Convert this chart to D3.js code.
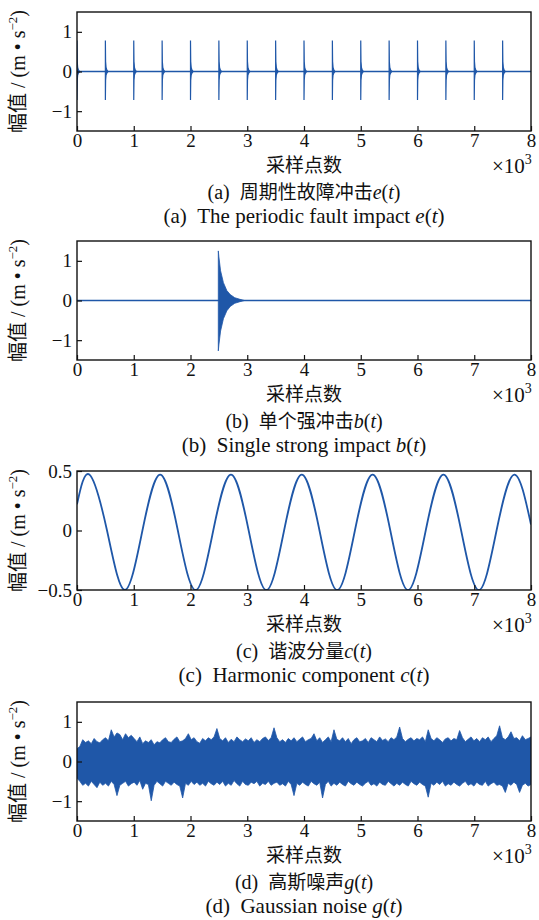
<!DOCTYPE html>
<html>
<head>
<meta charset="utf-8">
<script src="https://cdn.jsdelivr.net/npm/d3@7"></script>
<style>
  body { margin: 0; background: #fff; }
  svg text { fill: #111; }
</style>
</head>
<body>
<div id="chart"></div>
<script>
// ---- data ----
const xTicks = [0, 1, 2, 3, 4, 5, 6, 7, 8];           // 采样点数, ×10^3
const yTicksWide = [-1, 0, 1];
const yTicksHarm = [-0.5, 0, 0.5];

const panelLetters = ["a", "b", "c", "d"];
const captionsCn = ["周期性故障冲击", "单个强冲击", "谐波分量", "高斯噪声"];
const captionsEn = ["The periodic fault impact", "Single strong impact", "Harmonic component", "Gaussian noise"];
const signalNames = ["e", "b", "c", "g"];

// (a) periodic impacts: start of each impact (×10^3) and its decay envelope
const impulseTimes = [0, 0.5, 1, 1.5, 2, 2.5, 3, 3.5, 4, 4.5, 5, 5.5, 6, 6.5, 7, 7.5];
const impulseOffset = [0, 0.004, 0.012, 0.025, 0.045];
const impulseUpper = [0.78, 0.25, 0.1, 0.04, 0];
const impulseLower = [-0.72, -0.22, -0.09, -0.04, 0];

// (b) single strong impact envelope
const burstTime = [2.49, 2.5, 2.53, 2.58, 2.64, 2.7, 2.78, 2.87, 2.95];
const burstUpper = [1.25, 1.1, 0.75, 0.45, 0.25, 0.15, 0.07, 0.03, 0];
const burstLower = [-1.27, -1.12, -0.77, -0.46, -0.26, -0.15, -0.07, -0.03, 0];

// (c) harmonic component: start, peaks, zero crossings, troughs, end
const harmT = [0, 0.217, 0.529, 0.841, 1.153, 1.465, 1.777, 2.089, 2.401, 2.713, 3.025, 3.337,
  3.649, 3.961, 4.273, 4.585, 4.897, 5.209, 5.521, 5.833, 6.145, 6.457, 6.769, 7.081, 7.393, 7.705, 8];
const harmV = [0.22, 0.47, 0, -0.5, 0, 0.47, 0, -0.5, 0, 0.47, 0, -0.5,
  0, 0.47, 0, -0.5, 0, 0.47, 0, -0.5, 0, 0.47, 0, -0.5, 0, 0.47, 0.05];

// (d) gaussian noise: upper / lower extremes every 50 samples
const noiseUpper = [
  0.32,0.38,0.55,0.48,0.52,0.45,0.58,0.5,0.47,0.55,
  0.6,0.52,0.8,0.62,0.72,0.68,0.55,0.7,0.6,0.66,
  0.58,0.5,0.62,0.45,0.52,0.48,0.55,0.42,0.5,0.47,
  0.55,0.6,0.5,0.48,0.56,0.62,0.5,0.52,0.58,0.7,
  0.55,0.6,0.5,0.46,0.58,0.52,0.6,0.55,0.62,0.83,
  0.58,0.52,0.6,0.48,0.56,0.5,0.62,0.55,0.5,0.57,
  0.52,0.6,0.48,0.55,0.5,0.58,0.62,0.53,0.6,0.85,
  0.6,0.5,0.55,0.48,0.58,0.52,0.6,0.5,0.56,0.62,
  0.5,0.55,0.58,0.7,0.52,0.6,0.48,0.55,0.62,0.5,
  0.8,0.56,0.52,0.6,0.5,0.58,0.45,0.55,0.6,0.5,
  0.52,0.58,0.48,0.6,0.55,0.5,0.62,0.53,0.57,0.5,
  0.6,0.55,0.62,0.87,0.58,0.5,0.56,0.6,0.52,0.58,
  0.55,0.62,0.5,0.8,0.58,0.52,0.6,0.55,0.48,0.57,
  0.6,0.52,0.58,0.55,0.78,0.6,0.5,0.56,0.62,0.52,
  0.58,0.5,0.6,0.55,0.62,0.5,0.58,0.65,0.9,0.6,
  0.55,0.62,0.75,0.58,0.6,0.52,0.65,0.55,0.58,0.62];
const noiseLower = [
  -0.42,-0.5,-0.6,-0.55,-0.62,-0.5,-0.58,-0.66,-0.52,-0.6,
  -0.55,-0.62,-0.5,-0.58,-0.86,-0.6,-0.55,-0.5,-0.62,-0.56,
  -0.52,-0.6,-0.48,-0.7,-0.55,-0.58,-0.99,-0.6,-0.5,-0.56,
  -0.62,-0.5,-0.55,-0.6,-0.52,-0.58,-0.62,-0.92,-0.55,-0.6,
  -0.5,-0.58,-0.52,-0.6,-0.55,-0.62,-0.5,-0.56,-0.6,-0.52,
  -0.58,-0.5,-0.62,-0.55,-0.6,-0.48,-0.56,-0.62,-0.5,-0.58,
  -0.6,-0.52,-0.56,-0.5,-0.62,-0.55,-0.58,-0.5,-0.6,-0.55,
  -0.52,-0.6,-0.56,-0.62,-0.5,-0.58,-0.86,-0.55,-0.6,-0.52,
  -0.58,-0.62,-0.5,-0.56,-0.6,-0.52,-0.92,-0.58,-0.5,-0.62,
  -0.55,-0.6,-0.52,-0.58,-0.62,-0.5,-0.56,-0.6,-0.52,-0.58,
  -0.62,-0.55,-0.5,-0.6,-0.56,-0.62,-0.52,-0.58,-0.6,-0.5,
  -0.56,-0.62,-0.55,-0.6,-0.52,-0.58,-0.62,-0.5,-0.56,-0.6,
  -0.52,-0.58,-0.62,-0.9,-0.55,-0.6,-0.52,-0.58,-0.5,-0.62,
  -0.56,-0.6,-0.52,-0.58,-0.62,-0.55,-0.5,-0.6,-0.56,-0.62,
  -0.52,-0.58,-0.6,-0.5,-0.62,-0.56,-0.52,-0.6,-0.58,-0.62,
  -0.78,-0.55,-0.6,-0.52,-0.58,-0.78,-0.6,-0.55,-0.62,-0.58];

// ---- layout ----
const width = 539, height = 920;
const left = 77, right = 531, plotH = 119;
const tops = [12, 241, 471, 702];
const blue = "#1f57a8";
const serif = "Liberation Serif, Times New Roman, Times, DejaVu Serif, serif";
const cjk = "Noto Sans CJK SC, sans-serif";

const svg = d3.select("#chart").append("svg")
  .attr("width", width).attr("height", height)
  .attr("viewBox", `0 0 ${width} ${height}`);

const x = d3.scaleLinear().domain([0, 8]).range([left, right]);

tops.forEach((top, i) => {
  const bottom = top + plotH;
  const isHarm = i === 2;
  const y = d3.scaleLinear()
    .domain(isHarm ? [-0.5, 0.5] : [-1.5, 1.5])
    .range([bottom, top]);

  const g = svg.append("g");

  svg.append("clipPath").attr("id", "clip" + i)
    .append("rect").attr("x", left).attr("y", top).attr("width", right - left).attr("height", plotH);

  const plot = g.append("g").attr("clip-path", `url(#clip${i})`);

  // series
  if (i === 0) {
    plot.append("line")
      .attr("x1", x(0)).attr("x2", x(8)).attr("y1", y(0)).attr("y2", y(0))
      .attr("stroke", blue).attr("stroke-width", 1.5);
    const area = d3.area()
      .x(d => x(d.t)).y0(d => y(d.lo)).y1(d => y(d.hi));
    plot.selectAll("path.imp")
      .data(impulseTimes)
      .join("path")
      .attr("class", "imp")
      .attr("fill", blue)
      .attr("stroke", blue)
      .attr("stroke-width", 1.2)
      .attr("d", t0 => area(impulseOffset.map((o, k) => ({ t: t0 + o, hi: impulseUpper[k], lo: impulseLower[k] }))));
  } else if (i === 1) {
    plot.append("line")
      .attr("x1", x(0)).attr("x2", x(8)).attr("y1", y(0)).attr("y2", y(0))
      .attr("stroke", blue).attr("stroke-width", 1.5);
    const burst = burstTime.map((t, k) => ({ t, hi: burstUpper[k], lo: burstLower[k] }));
    plot.append("path")
      .datum(burst)
      .attr("fill", blue)
      .attr("stroke", blue)
      .attr("stroke-width", 0.8)
      .attr("d", d3.area().x(d => x(d.t)).y0(d => y(d.lo)).y1(d => y(d.hi)));
  } else if (i === 2) {
    plot.append("path")
      .datum(harmT.map((t, k) => [t, harmV[k]]))
      .attr("fill", "none")
      .attr("stroke", blue)
      .attr("stroke-width", 1.8)
      .attr("d", d3.line().x(d => x(d[0])).y(d => y(d[1])).curve(d3.curveNatural));
  } else {
    const idx = d3.scaleLinear().domain([0, noiseUpper.length - 1]).range([0, 8]);
    const band = noiseUpper.map((u, k) => ({ t: idx(k), hi: u, lo: noiseLower[k] }));
    plot.append("path")
      .datum(band)
      .attr("fill", blue)
      .attr("stroke", blue)
      .attr("stroke-width", 0.8)
      .attr("d", d3.area().x(d => x(d.t)).y0(d => y(d.lo)).y1(d => y(d.hi)));
  }

  // axes (ticks pointing inward)
  const xAxis = g.append("g")
    .attr("transform", `translate(0,${bottom})`)
    .call(d3.axisBottom(x).tickValues(xTicks).tickSize(-5).tickSizeOuter(0).tickPadding(2).tickFormat(d3.format("d")));
  const yAxis = g.append("g")
    .attr("transform", `translate(${left},0)`)
    .call(d3.axisLeft(y).tickValues(isHarm ? yTicksHarm : yTicksWide).tickSize(-5).tickSizeOuter(0).tickPadding(5)
      .tickFormat(d => d3.format("")(d).replace("-", "\u2212")));
  [xAxis, yAxis].forEach(a => {
    a.select(".domain").remove();
    a.selectAll(".tick line").attr("stroke", "#111").attr("stroke-width", 1.2);
    a.selectAll("text").attr("font-family", serif).attr("font-size", 19).attr("fill", "#111");
  });

  g.append("rect")
    .attr("x", left).attr("y", top).attr("width", right - left).attr("height", plotH)
    .attr("fill", "none").attr("stroke", "#111").attr("stroke-width", 1.4);

  // y label
  const yl = g.append("text")
    .attr("transform", `translate(25,${(top + bottom) / 2}) rotate(-90)`)
    .attr("text-anchor", "middle")
    .attr("font-family", serif).attr("font-size", 20);
  yl.append("tspan").attr("font-family", cjk).attr("font-size", 20).text("幅值");
  yl.append("tspan").text(" / (m \u2022 s");
  yl.append("tspan").attr("dy", -8).attr("font-size", 13).text("\u22122");
  yl.append("tspan").attr("dy", 8).text(")");

  // x label
  g.append("text")
    .attr("x", (left + right) / 2).attr("y", bottom + 41)
    .attr("text-anchor", "middle")
    .attr("font-family", cjk).attr("font-size", 19)
    .text("采样点数");

  const mult = g.append("text")
    .attr("x", 492).attr("y", bottom + 42)
    .attr("font-family", serif).attr("font-size", 21);
  mult.append("tspan").text("\u00d710");
  mult.append("tspan").attr("dy", -9).attr("font-size", 14).text("3");

  // captions
  const c1 = g.append("text")
    .attr("x", (left + right) / 2).attr("y", bottom + 68)
    .attr("text-anchor", "middle")
    .attr("font-family", serif).attr("font-size", 20);
  c1.append("tspan").text(`(${panelLetters[i]})\u00a0\u00a0`);
  c1.append("tspan").attr("font-family", cjk).attr("font-size", 19).text(captionsCn[i]);
  c1.append("tspan").attr("font-style", "italic").text(signalNames[i]);
  c1.append("tspan").text("(");
  c1.append("tspan").attr("font-style", "italic").text("t");
  c1.append("tspan").text(")");

  const c2 = g.append("text")
    .attr("x", (left + right) / 2).attr("y", bottom + 92)
    .attr("text-anchor", "middle")
    .attr("font-family", serif).attr("font-size", 21);
  c2.append("tspan").text(`(${panelLetters[i]})\u00a0\u00a0${captionsEn[i]} `);
  c2.append("tspan").attr("font-style", "italic").text(signalNames[i]);
  c2.append("tspan").text("(");
  c2.append("tspan").attr("font-style", "italic").text("t");
  c2.append("tspan").text(")");
});
</script>
</body>
</html>
